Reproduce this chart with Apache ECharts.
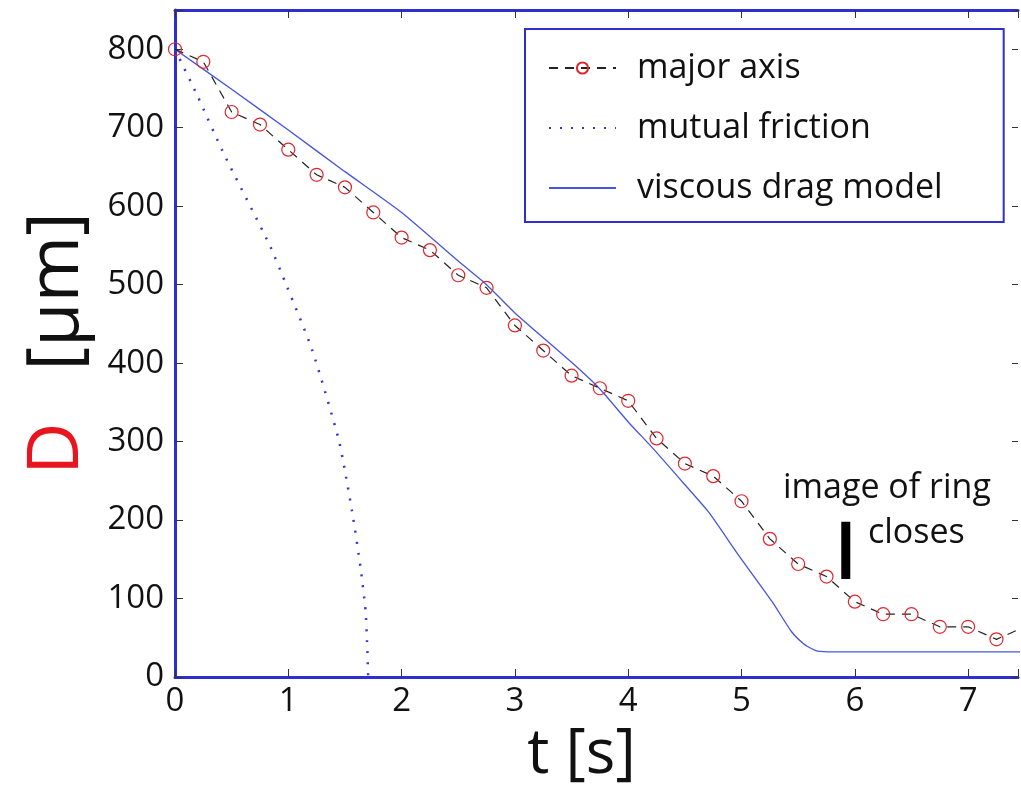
<!DOCTYPE html>
<html>
<head>
<meta charset="utf-8">
<script src="https://cdn.jsdelivr.net/npm/echarts@6/dist/echarts.min.js"></script>
<style>
  html, body { margin: 0; padding: 0; background: #fff; }
  #chart { width: 1021px; height: 791px; }
</style>
</head>
<body>
<div id="chart"></div>
<script>
const majorT = [0, 0.25, 0.5, 0.75, 1, 1.25, 1.5, 1.75, 2, 2.25, 2.5, 2.75, 3, 3.25, 3.5, 3.75,
    4, 4.25, 4.5, 4.75, 5, 5.25, 5.5, 5.75, 6, 6.25, 6.5, 6.75, 7, 7.25, 7.5];
const majorD = [800, 784, 720, 704, 672, 640, 624, 592, 560, 544, 512, 496, 448, 416, 384, 368,
    352, 304, 272, 256, 224, 176, 144, 128, 96, 80, 80, 64, 64, 48, 64];

// mutual friction (dotted)
const frictionT = [0, 0.2, 0.42, 0.83, 0.99, 1.21, 1.447, 1.564, 1.638, 1.682, 1.695, 1.705];
const frictionD = [800, 740, 670, 552, 497, 417, 301, 210, 139, 84, 45, 0];

// viscous drag model (solid)
const viscousT = [0, 0.5, 1, 1.5, 2, 2.5, 2.75, 3, 3.5, 3.75, 4, 4.22, 4.5, 4.71, 4.97, 5.27, 5.44, 5.55, 5.62, 5.67, 5.8, 7.5];
const viscousD = [800, 749, 697, 644, 592, 530, 500, 464, 401, 367, 325, 291, 245, 210, 156, 96, 58, 42, 36, 33, 32, 32];

// "image of ring closes" marker
const ringT = [5.92, 5.92];
const ringD = [125, 198];

const xTicks = [0, 1, 2, 3, 4, 5, 6, 7];
const yTicks = [0, 100, 200, 300, 400, 500, 600, 700, 800];

const zip = (xs, ys) => xs.map((x, i) => [x, ys[i]]);

const FONT = "Open Sans";
const BLUE = "#2e2ed2";

const axisCommon = {
    axisLine: { show: true, onZero: false, lineStyle: { color: BLUE, width: 3 } },
    axisTick: { show: true, inside: true, length: 8, lineStyle: { color: "#333", width: 1 } },
    splitLine: { show: false },
};

let option = {
    backgroundColor: "#fff",
    animation: false,
    textStyle: { fontFamily: FONT },
    grid: { left: 175, top: 10, right: 0, bottom: 108 },
    legend: {
        orient: "vertical",
        left: 525,
        top: 29,
        data: [
            { name: "major axis" },
            { name: "mutual friction", itemStyle: { opacity: 0 } },
            { name: "viscous drag model", itemStyle: { opacity: 0 } },
        ],
        itemWidth: 67,
        itemHeight: 14,
        itemGap: 20,
        padding: [19, 61, 14, 23],
        borderColor: BLUE,
        borderWidth: 2,
        backgroundColor: "#fff",
        textStyle: { fontFamily: FONT, fontSize: 34, color: "#111", lineHeight: 40, padding: [0, 0, 0, 16] },
    },
    xAxis: [
        {
            type: "value",
            position: "bottom",
            min: 0,
            max: 7.44,
            interval: 1,
            ...axisCommon,
            axisLabel: {
                fontFamily: FONT, fontSize: 33, color: "#111", margin: 8,
                formatter: (v) => (xTicks.includes(v) ? String(v) : ""),
            },
            name: "t [s]",
            nameLocation: "middle",
            nameGap: 47,
            nameTextStyle: { fontFamily: FONT, fontSize: 62, color: "#111", lineHeight: 62, padding: [0, 30, 0, 0] },
        },
        {
            type: "value",
            position: "top",
            min: 0,
            max: 7.44,
            interval: 1,
            ...axisCommon,
            axisLabel: { show: false },
        },
    ],
    yAxis: [
        {
            type: "value",
            position: "left",
            min: 0,
            max: 850,
            interval: 100,
            ...axisCommon,
            axisLabel: {
                fontFamily: FONT, fontSize: 33, color: "#111", margin: 11,
                formatter: (v) => (yTicks.includes(v) ? String(v) : ""),
            },
            name: "{d|D}{s|[μm]}",
            nameLocation: "middle",
            nameGap: 82,
            nameTextStyle: {
                lineHeight: 72,
                rich: {
                    d: { fontFamily: FONT, fontSize: 72, color: "#e8141e", padding: [0, 52, 0, 0], lineHeight: 72 },
                    s: { fontFamily: FONT, fontSize: 72, color: "#111", lineHeight: 72 },
                },
            },
        },
        {
            type: "value",
            position: "right",
            min: 0,
            max: 850,
            interval: 100,
            axisLine: { show: false, onZero: false },
            axisTick: { show: true, inside: true, length: 6, lineStyle: { color: "#333", width: 1 } },
            axisLabel: { show: false },
            splitLine: { show: false },
        },
    ],
    series: [
        {
            name: "mutual friction",
            type: "line",
            data: zip(frictionT, frictionD),
            smooth: 0.2,
            symbol: "none",
            lineStyle: { color: "#3535d6", width: 2.5, type: [2, 9] },
            itemStyle: { color: "#3535d6" },
        },
        {
            name: "viscous drag model",
            type: "line",
            data: zip(viscousT, viscousD),
            smooth: 0.2,
            symbol: "none",
            lineStyle: { color: "#4655e0", width: 1.3 },
            itemStyle: { color: "#4655e0" },
        },
        {
            name: "major axis",
            type: "line",
            data: zip(majorT, majorD),
            symbol: "circle",
            symbolSize: 13,
            lineStyle: { color: "#222", width: 1.2, type: [9, 7] },
            itemStyle: { color: "rgba(255,255,255,0)", borderColor: "#e0262c", borderWidth: 1.2 },
            z: 3,
        },
        {
            name: "ring closes",
            type: "line",
            data: zip(ringT, ringD),
            symbol: "none",
            silent: true,
            lineStyle: { color: "#000", width: 9 },
        },
    ],
    graphic: [
        {
            type: "text",
            left: 783,
            top: 471,
            style: { text: "image of ring", font: `34px "${FONT}"`, fill: "#111" },
        },
        {
            type: "text",
            left: 868,
            top: 516,
            style: { text: "closes", font: `34px "${FONT}"`, fill: "#111" },
        },
    ],
};

const chart = echarts.init(document.getElementById("chart"));
chart.setOption(option);
</script>
</body>
</html>
